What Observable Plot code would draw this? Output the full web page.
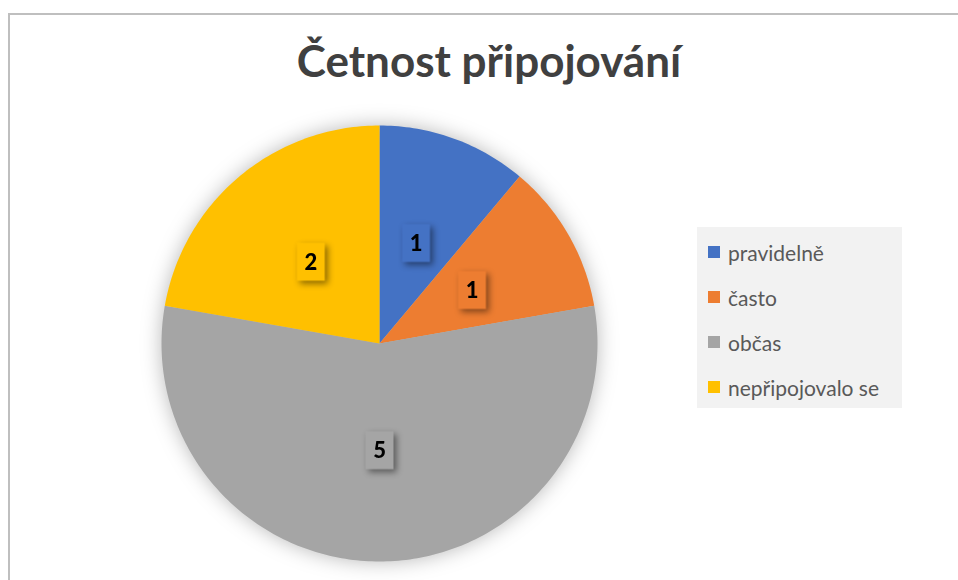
<!DOCTYPE html>
<html>
<head>
<meta charset="utf-8">
<script src="https://cdn.jsdelivr.net/npm/d3@7"></script>
<script src="https://cdn.jsdelivr.net/npm/@observablehq/plot@0.6"></script>
<style>
  html, body { margin: 0; padding: 0; background: #fff; }
  #chart { position: relative; width: 958px; height: 580px; overflow: hidden; background: #fff; }
  #frame { position: absolute; left: 8px; top: 13px; width: 1000px; height: 700px; border-left: 2px solid #BFBFBF; border-top: 2px solid #BFBFBF; box-sizing: border-box; }
  #title { position: absolute; left: 10px; top: 38px; width: 958px; text-align: center; font-family: Lato, sans-serif; font-weight: bold; font-size: 44px; line-height: 44px; color: #404040; }
  #plot { position: absolute; left: 0; top: 0; }
  #legend { position: absolute; left: 697px; top: 227px; width: 205px; height: 181px; background: #F2F2F2; box-sizing: border-box; padding: 2.5px 0 0 11px; }
  #legend .leg-swatches { font-family: Lato, sans-serif; font-size: 21px; color: #595959; margin: 0; }
  #legend .leg-swatch { height: 45px; margin: 0; padding: 0; }
  #legend .leg-swatch > svg { margin-right: 8px; }
</style>
</head>
<body>
<div id="chart">
  <div id="frame"></div>
  <div id="title">Četnost připojování</div>
  <div id="plot"></div>
  <div id="legend"></div>
</div>
<script>
const categories = ["pravidelně", "často", "občas", "nepřipojovalo se"];
const values = [1, 1, 5, 2];
const colors = ["#4472C4", "#ED7D31", "#A5A5A5", "#FFC000"];

const arcs = d3.pie().sort(null)(values);

const slicePoints = arcs.flatMap((a, i) => {
  const pts = [{cat: categories[i], x: 0, y: 0}];
  const n = Math.max(2, Math.ceil((a.endAngle - a.startAngle) / (Math.PI / 180)));
  for (let k = 0; k <= n; k++) {
    const ang = a.startAngle + (a.endAngle - a.startAngle) * k / n;
    pts.push({cat: categories[i], x: Math.sin(ang), y: Math.cos(ang)});
  }
  return pts;
});

const labels = arcs.map((a, i) => {
  const mid = (a.startAngle + a.endAngle) / 2;
  return {cat: categories[i], value: values[i], x: 0.49 * Math.sin(mid), y: 0.49 * Math.cos(mid)};
});

const boxSymbol = { draw(ctx) { ctx.rect(-14, -19, 28, 38); } };

const colorScale = {domain: categories, range: colors};

const chart = Plot.plot({
  width: 958,
  height: 580,
  margin: 0,
  style: {background: "transparent"},
  x: {domain: [-1, 1], range: [161, 597], axis: null},
  y: {domain: [-1, 1], range: [561, 125], axis: null},
  color: colorScale,
  marks: [
    Plot.line(slicePoints, {x: "x", y: "y", z: "cat", fill: "cat", stroke: "none"}),
    Plot.dot(labels, {x: "x", y: "y", fill: "cat", symbol: boxSymbol, r: 5, stroke: "none"}),
    Plot.text(labels, {x: "x", y: "y", text: d => String(d.value), fontSize: 22, fontWeight: "900", fill: "black", fontFamily: "Lato, sans-serif", dy: 1})
  ]
});
d3.select(chart).select('g[aria-label="line"]').style("filter", "drop-shadow(0px 0px 10px rgba(0,0,0,0.28))");
d3.select(chart).select('g[aria-label="dot"]').style("filter", "drop-shadow(3px 3px 3px rgba(0,0,0,0.45))");
document.getElementById("plot").appendChild(chart);

const leg = Plot.legend({color: colorScale, legend: "swatches", columns: 1, swatchSize: 12, className: "leg"});
document.getElementById("legend").appendChild(leg);
</script>
</body>
</html>
